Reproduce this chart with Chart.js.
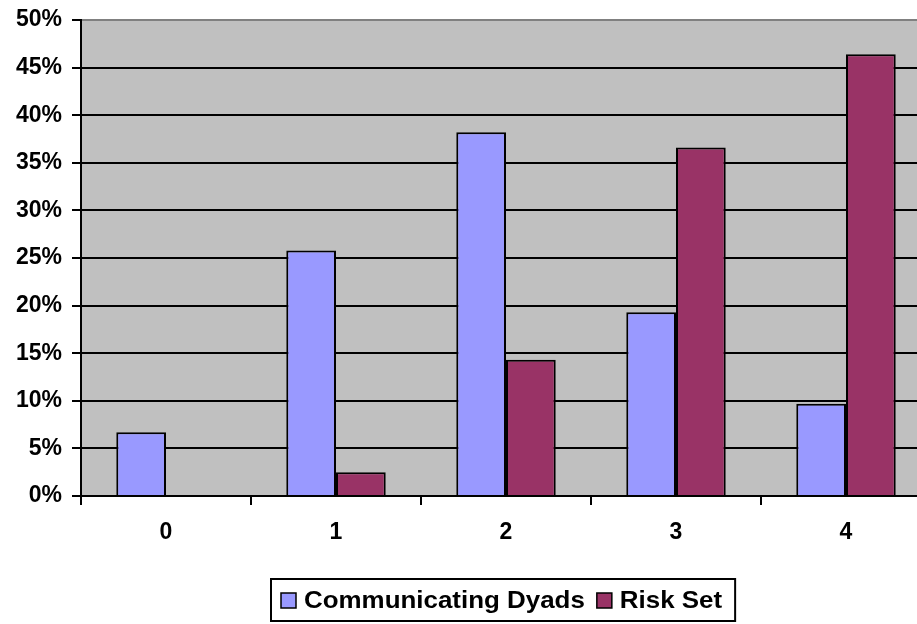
<!DOCTYPE html>
<html>
<head>
<meta charset="utf-8">
<script src="https://cdn.jsdelivr.net/npm/chart.js@4"></script>
<style>
  html, body { margin: 0; padding: 0; background: #fff; overflow: hidden; width: 917px; height: 624px; }
  #wrap { width: 931px; height: 624px; }
</style>
</head>
<body>
<div id="wrap"><canvas id="c" width="931" height="624"></canvas></div>
<script>
const categories = ['0', '1', '2', '3', '4'];
const seriesNames = ['Communicating Dyads', 'Risk Set'];
const communicatingDyads = [6.7, 25.8, 38.2, 19.3, 9.7];
const riskSet = [0, 2.5, 14.3, 36.6, 46.4];
const yMax = 50;
const yStep = 5;

const FONT = '"Liberation Sans", Arial, sans-serif';
const BLUE = '#9999FF';
const MAROON = '#993366';

const plotBg = {
  id: 'plotBg',
  beforeDraw(chart) {
    const { ctx, chartArea: a } = chart;
    ctx.save();
    ctx.fillStyle = '#C0C0C0';
    ctx.fillRect(a.left, a.top, a.right - a.left, a.bottom - a.top);
    ctx.restore();
  }
};

const boxLegend = {
  id: 'boxLegend',
  afterDraw(chart) {
    const { ctx, chartArea: a } = chart;
    const ds = chart.data.datasets;
    ctx.save();
    ctx.font = 'bold 24px ' + FONT;
    ctx.textBaseline = 'middle';
    const stretch = 1.08;
    const sw = 15, gapSwText = 8, gapItems = 12, padL = 10, padR = 13;
    const widths = ds.map(d => ctx.measureText(d.label).width * stretch);
    let total = padL + padR;
    widths.forEach((w, i) => { total += sw + gapSwText + w + (i < widths.length - 1 ? gapItems : 0); });
    const cx = (a.left + a.right) / 2 - 3;
    const left = Math.round(cx - total / 2);
    const top = 579, h = 42;
    ctx.strokeStyle = '#000';
    ctx.lineWidth = 2;
    ctx.strokeRect(left, top, total, h);
    const midY = top + h / 2;
    let x = left + padL;
    ds.forEach((d, i) => {
      ctx.fillStyle = d.backgroundColor;
      ctx.fillRect(x, midY - 7, sw, sw);
      ctx.lineWidth = 1.5;
      ctx.strokeRect(x, midY - 7, sw, sw);
      x += sw + gapSwText;
      ctx.fillStyle = '#000';
      ctx.save();
      ctx.translate(x, midY + 1);
      ctx.scale(stretch, 1);
      ctx.fillText(d.label, 0, 0);
      ctx.restore();
      x += widths[i] + gapItems;
    });
    ctx.restore();
  }
};

new Chart(document.getElementById('c'), {
  type: 'bar',
  data: {
    labels: categories,
    datasets: [
      { label: seriesNames[0], data: communicatingDyads, backgroundColor: BLUE, borderColor: '#000', borderWidth: 2 },
      { label: seriesNames[1], data: riskSet, backgroundColor: MAROON, borderColor: '#000', borderWidth: 2 }
    ]
  },
  options: {
    responsive: false,
    devicePixelRatio: 1,
    animation: false,
    layout: { padding: { top: 20, right: 0, bottom: 0, left: 0 } },
    datasets: { bar: { categoryPercentage: 0.585, barPercentage: 1.0 } },
    plugins: { legend: { display: false }, tooltip: { enabled: false } },
    scales: {
      x: {
        grid: { display: true, drawOnChartArea: false, drawTicks: true, tickLength: 9, tickColor: '#000', tickWidth: 2, lineWidth: 2, offset: true },
        border: { display: true, color: '#000', width: 2 },
        ticks: { color: '#000', font: { family: FONT, size: 23, weight: 'bold' }, padding: 14 },
        afterFit(s) { s.height = 128; s.paddingLeft = 0; s.paddingRight = 0; }
      },
      y: {
        min: 0,
        max: yMax,
        ticks: { stepSize: yStep, color: '#000', font: { family: FONT, size: 23, weight: 'bold' }, padding: 10, callback: v => v + '%' },
        grid: {
          color: c => (c.tick && c.tick.value === yMax) ? '#808080' : '#000',
          lineWidth: 2,
          tickLength: 9,
          tickColor: '#000',
          tickWidth: 2
        },
        border: { display: true, color: '#000', width: 2 },
        afterFit(s) { s.width = 81; s.paddingTop = 0; s.paddingBottom = 0; }
      }
    }
  },
  plugins: [plotBg, boxLegend]
});
</script>
</body>
</html>
